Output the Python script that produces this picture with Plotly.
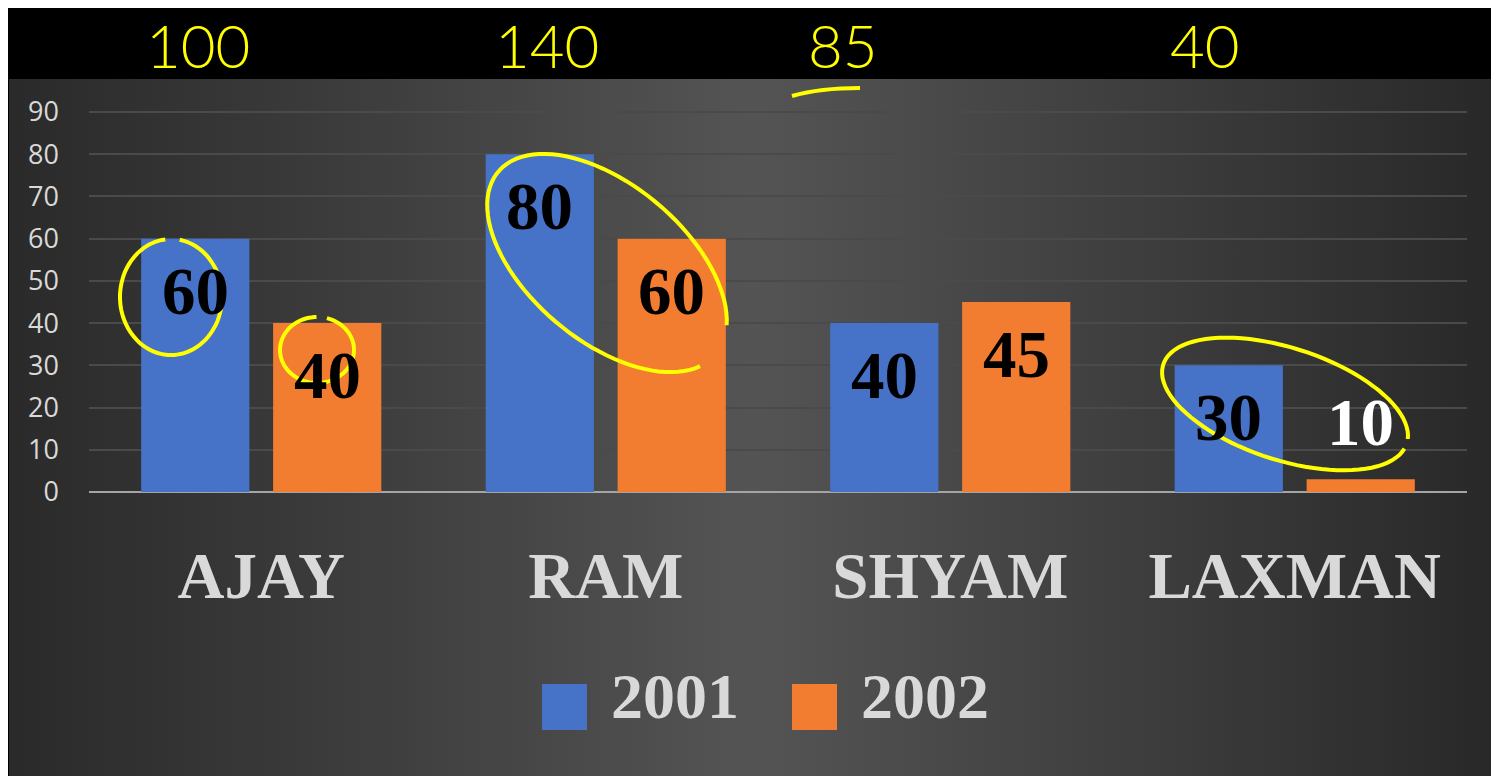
import numpy as np
import plotly.graph_objects as go

# ---------------- data ----------------
categories = ["AJAY", "RAM", "SHYAM", "LAXMAN"]
series_names = ["2001", "2002"]
values_2001 = [60, 80, 40, 30]
values_2002 = [40, 60, 45, 3]
labels_2001 = ["60", "80", "40", "30"]
labels_2002 = ["40", "60", "45", "10"]
y_tick_values = [0, 10, 20, 30, 40, 50, 60, 70, 80, 90]
handwritten_totals = ["100", "140", "85", "40"]

series_values = [values_2001, values_2002]
series_labels = [labels_2001, labels_2002]
series_colors = ["#4673c8", "#f27d31"]

# ---------------- layout constants (pixels, page coordinates) ----------------
W, H = 1499, 776
OX, OY = 8, 8          # page offset of the figure div


def fx(x):
    return x - OX


def fy(y):
    return y - OY


PLOT_L, PLOT_R = 89, 1467
Y0_PX, Y90_PX = 492, 112
px_per_unit = (Y0_PX - Y90_PX) / 90.0
Y_TOP = 92
y_top_px = Y0_PX - Y_TOP * px_per_unit

SERIF = "Liberation Serif"
LABEL_GREY = "#d9d9d9"
YELLOW = "#ffff00"

fig = go.Figure()

# background panel (pixel coordinate axes x / y)
bx = [fx(9), fx(1497), fx(1497), fx(9), fx(9)]
by = [fy(79), fy(79), H, H, fy(79)]
fig.add_trace(go.Scatter(
    x=bx, y=by, xaxis="x", yaxis="y", mode="lines", fill="toself",
    line=dict(width=0),
    fillgradient=dict(type="horizontal",
                      colorscale=[[0, "#2a2a2a"], [0.2, "#3a3a3a"], [0.5, "#545454"],
                                  [0.8, "#3a3a3a"], [1, "#282828"]]),
    hoverinfo="skip", showlegend=False))

# bars
for name, vals, col in zip(series_names, series_values, series_colors):
    fig.add_trace(go.Bar(
        x=categories, y=vals, name=name, xaxis="x2", yaxis="y2",
        marker=dict(color=col, line=dict(width=0)),
        showlegend=False, hoverinfo="x+y+name"))

annotations = []
slot = 132
for i, (vals, labs) in enumerate(zip(series_values, series_labels)):
    for cat, v, lab in zip(categories, vals, labs):
        inside = v >= 10
        annotations.append(dict(
            x=cat, y=v, xref="x2", yref="y2", text=lab, showarrow=False,
            xshift=(i - 0.5) * slot, yshift=-52 if inside else 57,
            yanchor="middle",
            font=dict(family=SERIF, size=67, color="black" if inside else "white",
                      weight="bold")))

# custom legend
shapes = []
for i, (name, col) in enumerate(zip(series_names, series_colors)):
    x0 = 542 + i * 250
    shapes.append(dict(type="rect", xref="x", yref="y", x0=fx(x0), x1=fx(x0 + 45),
                       y0=fy(684), y1=fy(730), fillcolor=col, line=dict(width=0),
                       layer="above"))
    annotations.append(dict(x=fx(x0 + 67), y=fy(696), xref="x", yref="y", text=name,
                            showarrow=False, xanchor="left", yanchor="middle",
                            font=dict(family=SERIF, size=64, color=LABEL_GREY,
                                      weight="bold")))

# handwritten notes
hand_x = [198, 547, 843, 1205]
for hx, t in zip(hand_x, handwritten_totals):
    annotations.append(dict(x=fx(hx), y=fy(45), xref="x", yref="y", text=t,
                            showarrow=False,
                            font=dict(family="Lato", size=60, color=YELLOW,
                                      weight=300)))


def ellipse_path(cx, cy, a, b, ang, t0=0.0, t1=2 * np.pi, n=90):
    t = np.linspace(t0, t1, n)
    th = np.deg2rad(ang)
    xs = fx(cx) + a * np.cos(t) * np.cos(th) - b * np.sin(t) * np.sin(th)
    ys = fy(cy) + a * np.cos(t) * np.sin(th) + b * np.sin(t) * np.cos(th)
    return "M " + " L ".join(f"{x:.1f},{y:.1f}" for x, y in zip(xs, ys))


hand_line = dict(color=YELLOW, width=4)
shapes += [
    dict(type="path", xref="x", yref="y",
         path=ellipse_path(171, 297, 51, 58, 0, -1.4, 4.6), line=hand_line),
    dict(type="path", xref="x", yref="y",
         path=ellipse_path(317, 350, 37, 33, 0, -1.3, 4.7), line=hand_line),
    dict(type="path", xref="x", yref="y",
         path=ellipse_path(607, 263, 142, 78, 40, 0.25, 5.9), line=hand_line),
    dict(type="path", xref="x", yref="y",
         path=ellipse_path(1285, 404, 128, 56, 18, 0.1, 6.2), line=hand_line),
    dict(type="path", xref="x", yref="y",
         path=f"M {fx(792)},{fy(96)} Q {fx(820)},{fy(88)} {fx(860)},{fy(88)}",
         line=hand_line),
]

fig.update_layout(
    width=W, height=H,
    margin=dict(l=0, r=0, t=0, b=0, pad=0, autoexpand=False),
    paper_bgcolor="black", plot_bgcolor="rgba(0,0,0,0)",
    barmode="group", bargap=0.234, bargroupgap=0.18,
    showlegend=False,
    xaxis=dict(domain=[0, 1], range=[0, W], visible=False, fixedrange=True,
               automargin=False),
    yaxis=dict(domain=[0, 1], range=[H, 0], visible=False, fixedrange=True,
               automargin=False),
    xaxis2=dict(domain=[fx(PLOT_L) / W, fx(PLOT_R) / W], anchor="y2", showgrid=False,
                showline=False, ticks="", zeroline=False, automargin=False,
                tickfont=dict(family=SERIF, size=65, color=LABEL_GREY, weight="bold"),
                ticklabelstandoff=40),
    yaxis2=dict(domain=[1 - fy(Y0_PX) / H, 1 - fy(y_top_px) / H], anchor="x2",
                range=[0, Y_TOP], tickvals=y_tick_values, showgrid=True,
                gridcolor="#4a4a4a", gridwidth=2, zeroline=True, automargin=False,
                zerolinecolor="#a5a5a5", zerolinewidth=2, showline=False, ticks="",
                tickfont=dict(family="Open Sans", size=27, color=LABEL_GREY),
                ticklabelstandoff=29),
    annotations=annotations, shapes=shapes,
)

fig.write_html("out.html")
